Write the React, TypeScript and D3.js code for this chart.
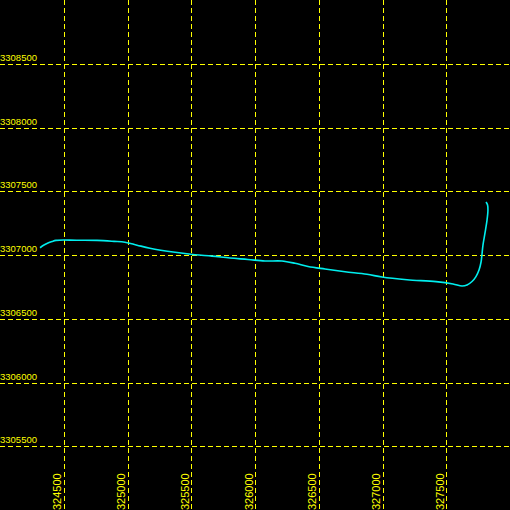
import { useEffect, useRef } from "react";
import * as d3 from "d3";

// grid / tick values
const xTicks = [324500, 325000, 325500, 326000, 326500, 327000, 327500];
const yTicks = [3305500, 3306000, 3306500, 3307000, 3307500, 3308000, 3308500];

// track (easting, northing)
const trackX = [
  324314, 324345, 324376, 324408, 324439, 324600, 324761, 324894, 324980, 325075,
  325176, 325373, 325529, 325663, 325804, 325945, 326078, 326212, 326314, 326416,
  326549, 326706, 326878, 326996, 327192, 327420, 327553, 327624, 327663, 327702,
  327733, 327757, 327773, 327788, 327804, 327820, 327827, 327824, 327812,
];
const trackY = [
  3307057, 3307078, 3307094, 3307106, 3307115, 3307116, 3307115, 3307107, 3307100, 3307077,
  3307053, 3307021, 3307002, 3306991, 3306976, 3306965, 3306953, 3306953, 3306935, 3306910,
  3306890, 3306869, 3306849, 3306827, 3306806, 3306791, 3306773, 3306757, 3306765, 3306792,
  3306831, 3306882, 3306945, 3307078, 3307173, 3307275, 3307353, 3307392, 3307416,
];

const App = () => {
  const svgRef = useRef<SVGSVGElement | null>(null);
  const width = 510;
  const height = 510;

  useEffect(() => {
    const svgElement = svgRef.current;
    if (!svgElement) return;
    const svg = d3.select(svgElement);
    svg.selectAll("*").remove();

    const x = d3.scaleLinear().domain([324000, 328000]).range([0, width]);
    const y = d3.scaleLinear().domain([3305000, 3309000]).range([height, 0]);

    svg.append("rect").attr("width", width).attr("height", height).attr("fill", "#000");

    // grid
    const grid = svg.append("g").attr("shape-rendering", "crispEdges");
    grid
      .selectAll("line.h")
      .data(yTicks)
      .join("line")
      .attr("class", "h")
      .attr("x1", 0)
      .attr("x2", width)
      .attr("y1", (d) => Math.round(y(d)) + 0.5)
      .attr("y2", (d) => Math.round(y(d)) + 0.5)
      .attr("stroke", "#ffff00")
      .attr("stroke-dasharray", "5,3");
    grid
      .selectAll("line.v")
      .data(xTicks)
      .join("line")
      .attr("class", "v")
      .attr("y1", 0)
      .attr("y2", height)
      .attr("x1", (d) => Math.round(x(d)) + 0.5)
      .attr("x2", (d) => Math.round(x(d)) + 0.5)
      .attr("stroke", "#ffff00")
      .attr("stroke-dasharray", "5,3");

    // y labels
    svg
      .append("g")
      .selectAll("text")
      .data(yTicks)
      .join("text")
      .attr("x", 0)
      .attr("y", (d) => y(d) - 3)
      .attr("fill", "#ffff00")
      .attr("font-family", "Liberation Sans, Arial, sans-serif")
      .attr("font-size", 9.5)
      .text((d) => d);

    // x labels (rotated)
    svg
      .append("g")
      .selectAll("text")
      .data(xTicks)
      .join("text")
      .attr("transform", (d) => `translate(${x(d) - 2.5},${height}) rotate(-90)`)
      .attr("fill", "#ffff00")
      .attr("font-family", "Liberation Sans, Arial, sans-serif")
      .attr("font-size", 11)
      .text((d) => d);

    // track
    const pts: [number, number][] = trackX.map((v, i) => [v, trackY[i]]);
    const line = d3
      .line<[number, number]>()
      .x((d) => x(d[0]))
      .y((d) => y(d[1]))
      .curve(d3.curveCatmullRom.alpha(0.5));
    svg
      .append("path")
      .attr("d", line(pts))
      .attr("fill", "none")
      .attr("stroke", "#00eeee")
      .attr("stroke-width", 1.6);
  }, []);

  return (
    <svg
      ref={svgRef}
      width={width}
      height={height}
      style={{ position: "absolute", left: 0, top: 0, display: "block" }}
    ></svg>
  );
};

export default App;
